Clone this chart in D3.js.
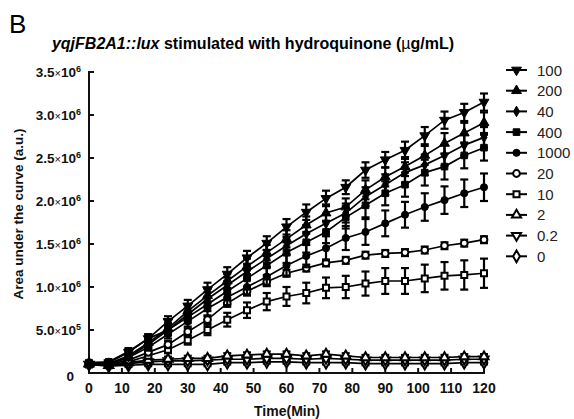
<!DOCTYPE html>
<html>
<head>
<meta charset="utf-8">
<script src="https://cdn.jsdelivr.net/npm/d3@7"></script>
<style>
  body { margin: 0; background: #fff; }
  svg { font-family: Arial, "Liberation Sans", sans-serif; }
</style>
</head>
<body>
<div id="chart"></div>
<script>
//// data (values in units of 10^6)
var times = [0, 6, 12, 18, 24, 30, 36, 42, 48, 54, 60, 66, 72, 78, 84, 90, 96, 102, 108, 114, 120];
var xTicks = [0, 10, 20, 30, 40, 50, 60, 70, 80, 90, 100, 110, 120];
var yTicks = [0, 0.5, 1.0, 1.5, 2.0, 2.5, 3.0, 3.5];
var yTickLabels = [["0"], ["5.0", "5"], ["1.0", "6"], ["1.5", "6"], ["2.0", "6"], ["2.5", "6"], ["3.0", "6"], ["3.5", "6"]];

var doses = ["100", "200", "40", "400", "1000", "20", "10", "2", "0.2", "0"];

var s100  = [0.10,0.12,0.24,0.40,0.60,0.78,0.97,1.15,1.34,1.51,1.70,1.87,2.03,2.16,2.36,2.48,2.59,2.76,2.94,3.03,3.15];
var s200  = [0.10,0.11,0.20,0.35,0.52,0.72,0.90,1.07,1.24,1.40,1.56,1.72,1.86,1.93,2.13,2.28,2.40,2.53,2.67,2.79,2.91];
var s40   = [0.10,0.10,0.19,0.33,0.50,0.68,0.86,1.02,1.18,1.33,1.48,1.62,1.74,1.86,2.05,2.19,2.33,2.42,2.53,2.65,2.74];
var s400  = [0.12,0.13,0.25,0.40,0.50,0.65,0.80,0.95,1.10,1.25,1.40,1.52,1.64,1.81,1.95,2.09,2.19,2.33,2.40,2.53,2.62];
var s1000 = [0.10,0.10,0.18,0.30,0.45,0.60,0.75,0.88,1.00,1.12,1.25,1.36,1.45,1.57,1.64,1.74,1.84,1.93,2.01,2.09,2.16];
var s20   = [0.10,0.10,0.15,0.24,0.33,0.48,0.62,0.81,0.95,1.06,1.16,1.22,1.28,1.31,1.37,1.39,1.40,1.43,1.48,1.51,1.55];
var s10   = [0.10,0.09,0.13,0.20,0.27,0.38,0.50,0.62,0.73,0.83,0.89,0.93,0.99,1.00,1.04,1.07,1.07,1.10,1.13,1.14,1.16];
var s2    = [0.11,0.09,0.12,0.15,0.16,0.17,0.17,0.20,0.21,0.22,0.22,0.20,0.22,0.20,0.18,0.18,0.18,0.18,0.18,0.19,0.19];
var s02   = [0.10,0.09,0.11,0.13,0.14,0.14,0.15,0.16,0.16,0.17,0.17,0.16,0.17,0.16,0.15,0.15,0.15,0.15,0.15,0.16,0.16];
var s0    = [0.10,0.08,0.09,0.10,0.10,0.10,0.10,0.12,0.12,0.13,0.13,0.12,0.12,0.12,0.11,0.11,0.11,0.11,0.11,0.12,0.12];

// error bars (sd, same units)
var e100  = [0.02,0.02,0.03,0.05,0.06,0.07,0.08,0.08,0.08,0.08,0.09,0.09,0.09,0.08,0.09,0.09,0.10,0.10,0.10,0.10,0.10];
var e200  = [0.02,0.02,0.03,0.05,0.06,0.07,0.08,0.08,0.09,0.09,0.10,0.10,0.10,0.10,0.11,0.11,0.11,0.11,0.12,0.12,0.12];
var e40   = [0.02,0.02,0.03,0.05,0.06,0.07,0.08,0.09,0.09,0.10,0.10,0.10,0.11,0.11,0.11,0.12,0.12,0.12,0.12,0.12,0.12];
var e400  = [0.02,0.02,0.04,0.05,0.06,0.07,0.08,0.09,0.10,0.11,0.12,0.12,0.13,0.13,0.14,0.14,0.14,0.15,0.15,0.15,0.15];
var e1000 = [0.02,0.02,0.03,0.04,0.05,0.06,0.08,0.09,0.10,0.11,0.12,0.13,0.14,0.14,0.15,0.15,0.15,0.16,0.16,0.16,0.16];
var e20   = [0.01,0.01,0.02,0.03,0.04,0.04,0.04,0.04,0.04,0.04,0.04,0.04,0.04,0.04,0.04,0.04,0.04,0.04,0.04,0.04,0.04];
var e10   = [0.01,0.01,0.02,0.03,0.04,0.05,0.06,0.08,0.09,0.10,0.11,0.12,0.12,0.13,0.14,0.15,0.15,0.16,0.16,0.17,0.17];
var e2    = [0.02,0.02,0.03,0.03,0.03,0.03,0.03,0.03,0.03,0.03,0.03,0.03,0.03,0.03,0.03,0.03,0.03,0.03,0.03,0.03,0.03];
var e02   = [0.02,0.02,0.02,0.02,0.02,0.02,0.02,0.02,0.02,0.02,0.02,0.02,0.02,0.02,0.02,0.02,0.02,0.02,0.02,0.02,0.02];
var e0    = [0.02,0.02,0.02,0.02,0.02,0.02,0.02,0.02,0.02,0.02,0.02,0.02,0.02,0.02,0.02,0.02,0.02,0.02,0.02,0.02,0.02];

var series = [
  {name: "100",  vals: s100,  err: e100,  sym: "triDown", open: false},
  {name: "200",  vals: s200,  err: e200,  sym: "triUp",   open: false},
  {name: "40",   vals: s40,   err: e40,   sym: "diamond", open: false},
  {name: "400",  vals: s400,  err: e400,  sym: "square",  open: false},
  {name: "1000", vals: s1000, err: e1000, sym: "circle",  open: false},
  {name: "20",   vals: s20,   err: e20,   sym: "circle",  open: true},
  {name: "10",   vals: s10,   err: e10,   sym: "square",  open: true},
  {name: "2",    vals: s2,    err: e2,    sym: "triUp",   open: true},
  {name: "0.2",  vals: s02,   err: e02,   sym: "triDown", open: true},
  {name: "0",    vals: s0,    err: e0,    sym: "diamond", open: true}
];

//// chart
var W = 574, H = 419;
var svg = d3.select("#chart").append("svg")
  .attr("width", W).attr("height", H);

var x = d3.scaleLinear().domain([0, 120]).range([89, 484]);
var y = d3.scaleLinear().domain([0, 3.5]).range([373, 72]);

function symPath(kind, open) {
  var s;
  if (kind === "circle") s = d3.symbol(d3.symbolCircle, open ? 36 : 40);
  else if (kind === "square") s = d3.symbol(d3.symbolSquare, open ? 36 : 44);
  else if (kind === "diamond") s = d3.symbol(d3.symbolDiamond, open ? 40 : 32);
  else s = d3.symbol(d3.symbolTriangle, open ? 36 : 42);
  return s();
}
function symRot(kind) { return kind === "triDown" ? " rotate(180)" : ""; }

// panel letter + title
svg.append("text").attr("x", 9).attr("y", 33)
  .attr("font-size", 26).text("B");

var title = svg.append("text").attr("x", 253).attr("y", 49)
  .attr("text-anchor", "middle").attr("font-size", 16).attr("font-weight", "bold");
title.append("tspan").attr("font-style", "italic").text("yqjFB2A1::lux");
title.append("tspan").text(" stimulated with hydroquinone (");
title.append("tspan").attr("font-weight", "normal").text("\u00b5");
title.append("tspan").text("g/mL)");

// axes
var axisG = svg.append("g").attr("stroke", "#111").attr("stroke-width", 2);
axisG.append("line").attr("x1", x(0)).attr("x2", x(0)).attr("y1", y(3.5) - 1).attr("y2", y(0) + 1);
axisG.append("line").attr("x1", x(0)).attr("x2", x(120) + 1).attr("y1", y(0)).attr("y2", y(0));

axisG.selectAll(".yt").data(yTicks.slice(1)).enter().append("line")
  .attr("x1", x(0)).attr("x2", x(0) + 5)
  .attr("y1", d => y(d)).attr("y2", d => y(d));
axisG.selectAll(".xt").data(xTicks).enter().append("line")
  .attr("x1", d => x(d)).attr("x2", d => x(d))
  .attr("y1", y(0)).attr("y2", y(0) - 5);

// y tick labels
yTicks.forEach(function (v, i) {
  var lab = yTickLabels[i];
  var t = svg.append("text").attr("x", 81).attr("y", y(v) + 5)
    .attr("text-anchor", "end").attr("font-size", 13.5).attr("font-weight", "bold")
    .attr("fill", "#111");
  if (lab.length === 1) {
    t.attr("y", y(v) + 8).attr("x", 74).text(lab[0]);
  } else {
    t.append("tspan").text(lab[0]);
    t.append("tspan").attr("font-weight", "normal").attr("font-size", 11).text("\u00d7");
    t.append("tspan").text("10");
    t.append("tspan").attr("font-size", 9).attr("dy", -5).text(lab[1]);
  }
});

// x tick labels
svg.selectAll(".xl").data(xTicks).enter().append("text")
  .attr("x", d => x(d)).attr("y", 393)
  .attr("text-anchor", "middle").attr("font-size", 14).attr("font-weight", "bold")
  .attr("fill", "#111").text(d => d);

svg.append("text").attr("x", 287).attr("y", 416).attr("text-anchor", "middle")
  .attr("font-size", 14).attr("font-weight", "bold").attr("fill", "#111").text("Time(Min)");

svg.append("text").attr("transform", "translate(23,214) rotate(-90)")
  .attr("text-anchor", "middle").attr("font-size", 13.5).attr("font-weight", "bold")
  .attr("fill", "#111").text("Area under the curve (a.u.)");

//// data marks
var line = d3.line().x((d, i) => x(times[i])).y(d => y(d));
var plot = svg.append("g");

series.slice().reverse().forEach(function (s) {
  var g = plot.append("g");
  g.append("path").attr("d", line(s.vals)).attr("fill", "none")
    .attr("stroke", "#000").attr("stroke-width", 1.7);
  // error bars
  s.vals.forEach(function (v, i) {
    var cx = x(times[i]);
    var top = y(v + s.err[i]), bot = y(v - s.err[i]);
    g.append("line").attr("x1", cx).attr("x2", cx).attr("y1", top).attr("y2", bot)
      .attr("stroke", "#000").attr("stroke-width", 2.2);
    [top, bot].forEach(function (yy) {
      g.append("line").attr("x1", cx - 4).attr("x2", cx + 4).attr("y1", yy).attr("y2", yy)
        .attr("stroke", "#000").attr("stroke-width", 2.2);
    });
  });
  g.selectAll(".m").data(s.vals).enter().append("path")
    .attr("d", symPath(s.sym, s.open))
    .attr("transform", (d, i) => "translate(" + x(times[i]) + "," + y(d) + ")" + symRot(s.sym))
    .attr("fill", s.open ? "#fff" : "#000")
    .attr("stroke", "#000").attr("stroke-width", s.open ? 2 : 1);
});

//// legend
var leg = svg.append("g");
series.forEach(function (s, i) {
  var ly = 70 + i * 20.7;
  leg.append("line").attr("x1", 506).attr("x2", 527).attr("y1", ly).attr("y2", ly)
    .attr("stroke", "#000").attr("stroke-width", 2);
  leg.append("path").attr("d", symPath(s.sym, s.open))
    .attr("transform", "translate(516.5," + ly + ")" + symRot(s.sym))
    .attr("fill", s.open ? "#fff" : "#000")
    .attr("stroke", "#000").attr("stroke-width", s.open ? 2 : 1);
  leg.append("text").attr("x", 537).attr("y", ly + 5.5)
    .attr("font-size", 15).attr("fill", "#222").text(s.name);
});
</script>
</body>
</html>
